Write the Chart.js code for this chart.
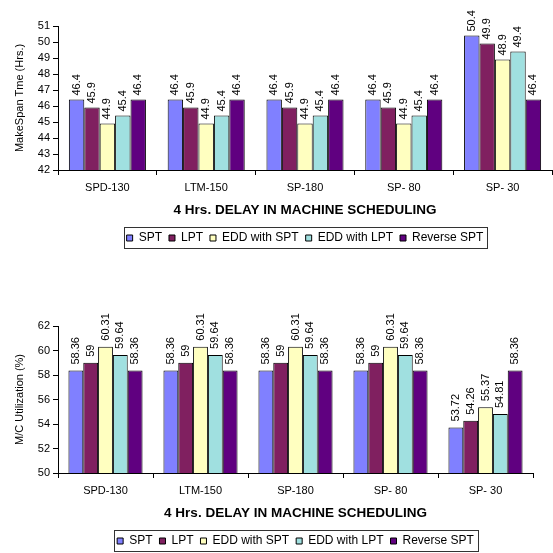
<!DOCTYPE html>
<html><head><meta charset="utf-8">
<script src="https://cdn.jsdelivr.net/npm/chart.js@4"></script>
<style>
html,body{margin:0;padding:0;background:#fff;overflow:hidden;width:553px;height:553px}
#c1{position:absolute;left:0;top:0}
#c2{position:absolute;left:0;top:280px}
</style></head><body>
<canvas id="c1" width="553" height="270"></canvas>
<canvas id="c2" width="553" height="300"></canvas>
<script>
const categories = ['SPD-130', 'LTM-150', 'SP-180', 'SP- 80', 'SP- 30'];
const seriesNames = ['SPT', 'LPT', 'EDD with SPT', 'EDD with LPT', 'Reverse SPT'];
const seriesColors = ['#8080FF', '#802060', '#FFFFC0', '#A0E0E0', '#600080'];

const makespanSPT    = [46.4, 46.4, 46.4, 46.4, 50.4];
const makespanLPT    = [45.9, 45.9, 45.9, 45.9, 49.9];
const makespanEDDSPT = [44.9, 44.9, 44.9, 44.9, 48.9];
const makespanEDDLPT = [45.4, 45.4, 45.4, 45.4, 49.4];
const makespanRevSPT = [46.4, 46.4, 46.4, 46.4, 46.4];

const utilSPT    = [58.36, 58.36, 58.36, 58.36, 53.72];
const utilLPT    = [59, 59, 59, 59, 54.26];
const utilEDDSPT = [60.31, 60.31, 60.31, 60.31, 55.37];
const utilEDDLPT = [59.64, 59.64, 59.64, 59.64, 54.81];
const utilRevSPT = [58.36, 58.36, 58.36, 58.36, 58.36];

const makespanTicks = {min: 42, max: 51, step: 1};
const utilTicks = {min: 50, max: 62, step: 2};

const xTitle = '4 Hrs. DELAY IN MACHINE SCHEDULING';
const makespanTitle = 'MakeSpan Tme (Hrs.)';
const utilTitle = 'M/C Utilization (%)';

const FONT = '"Liberation Sans", Arial, sans-serif';
Chart.defaults.font.family = FONT;
Chart.defaults.color = '#000';

const barLabels = {
  id: 'barLabels',
  afterDatasetsDraw(chart, args, opts) {
    const ctx = chart.ctx;
    ctx.save();
    ctx.font = '11px ' + FONT;
    ctx.fillStyle = '#000';
    ctx.textAlign = 'left';
    ctx.textBaseline = 'middle';
    chart.data.datasets.forEach((ds, i) => {
      chart.getDatasetMeta(i).data.forEach((el, j) => {
        ctx.save();
        ctx.translate(el.x, el.y - opts.gap);
        ctx.rotate(-Math.PI / 2);
        ctx.fillText(String(ds.data[j]), 0, 0);
        ctx.restore();
      });
    });
    ctx.restore();
  }
};

const legendBorder = {
  id: 'legendBorder',
  afterDraw(chart) {
    const hb = chart.legend && chart.legend.legendHitBoxes;
    if (!hb || !hb.length) return;
    const first = hb[0], last = hb[hb.length - 1];
    const cy = first.top + first.height / 2;
    const x0 = Math.round(first.left - 3) + 0.5;
    const x1 = Math.round(last.left + last.width + 4) + 0.5;
    const y0 = Math.round(cy - 11) + 0.5;
    const ctx = chart.ctx;
    ctx.save();
    ctx.strokeStyle = '#333';
    ctx.lineWidth = 1;
    ctx.strokeRect(x0, y0, x1 - x0, 21);
    ctx.restore();
  }
};

function makeChart(id, seriesData, ticks, yTitle, pad, xHeight, labelGap) {
  return new Chart(document.getElementById(id), {
    type: 'bar',
    data: {
      labels: categories,
      datasets: seriesData.map((d, i) => ({
        label: seriesNames[i],
        data: d,
        backgroundColor: seriesColors[i],
        borderColor: '#000',
        borderWidth: 1,
        borderSkipped: false,
        categoryPercentage: 0.78,
        barPercentage: 1.0
      }))
    },
    options: {
      responsive: false,
      animation: false,
      layout: {padding: pad},
      scales: {
        x: {
          ticks: {color: '#000', font: {size: 11}, padding: 6, maxRotation: 0, autoSkip: false},
          grid: {drawOnChartArea: false, drawTicks: true, tickLength: 5, color: '#000', offset: true},
          border: {color: '#000'},
          title: {display: true, text: xTitle, color: '#000', font: {size: 13.5, weight: 'bold'}, padding: {top: 0, bottom: 6.8}},
          afterFit(s) { s.height = xHeight; }
        },
        y: {
          min: ticks.min, max: ticks.max,
          ticks: {stepSize: ticks.step, autoSkip: false, color: '#000', font: {size: 11}, padding: 3},
          grid: {drawOnChartArea: false, drawTicks: true, tickLength: 5, color: '#000'},
          border: {color: '#000'},
          title: {display: true, text: yTitle, color: '#000', font: {size: 11}, padding: {top: 13.4, bottom: 0}},
          afterFit(s) { s.width = 58; }
        }
      },
      plugins: {
        legend: {
          position: 'bottom', fullSize: false,
          labels: {boxWidth: 6, boxHeight: 6, padding: 7, color: '#000', font: {size: 12}}
        },
        tooltip: {enabled: false},
        barLabels: {gap: labelGap}
      }
    },
    plugins: [barLabels, legendBorder]
  });
}

makeChart('c1',
  [makespanSPT, makespanLPT, makespanEDDSPT, makespanEDDLPT, makespanRevSPT],
  makespanTicks, makespanTitle,
  {top: 26, left: 0, right: 1, bottom: 16}, 55, 4);

makeChart('c2',
  [utilSPT, utilLPT, utilEDDSPT, utilEDDLPT, utilRevSPT],
  utilTicks, utilTitle,
  {top: 46, left: 0, right: 20, bottom: 23}, 55, 6);
</script>
</body></html>
